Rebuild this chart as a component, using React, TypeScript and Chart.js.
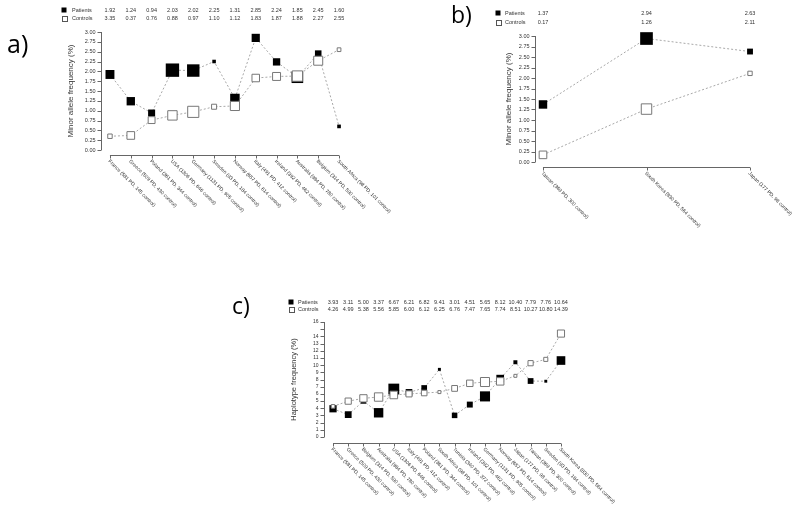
import React, { useEffect, useRef } from 'react';
import { Chart, registerables } from 'chart.js';
Chart.register(...registerables);

// ---------- Panel a ----------
const aCountries = ['France', 'Greece', 'Poland', 'USA', 'Germany', 'Sweden', 'Norway', 'Italy', 'Ireland', 'Australia', 'Belgium', 'South Africa'];
const aPatientsN = [581, 509, 361, 1306, 1131, 93, 657, 491, 392, 984, 314, 98];
const aControlsN = [145, 430, 344, 646, 905, 184, 614, 412, 462, 780, 590, 101];
const aPatients = [1.92, 1.24, 0.94, 2.03, 2.02, 2.25, 1.31, 2.85, 2.24, 1.85, 2.45, 0.60];
const aControls = [0.35, 0.37, 0.76, 0.88, 0.97, 1.10, 1.12, 1.83, 1.87, 1.88, 2.27, 2.55];
// header text as printed in the figure
const aPatientsText = ['1.92', '1.24', '0.94', '2.03', '2.02', '2.25', '1.31', '2.85', '2.24', '1.85', '2.45', '1.60'];
const aControlsText = ['3.35', '0.37', '0.76', '0.88', '0.97', '1.10', '1.12', '1.83', '1.87', '1.88', '2.27', '2.55'];
const aYTickValues = [0, 0.25, 0.5, 0.75, 1, 1.25, 1.5, 1.75, 2, 2.25, 2.5, 2.75, 3];
const aYTickLabels = ['0.00', '0.25', '0.50', '0.75', '1.00', '1.25', '1.50', '1.75', '2.00', '2.25', '2.50', '2.75', '3.00'];

// ---------- Panel b ----------
const bCountries = ['Taiwan', 'South Korea', 'Japan'];
const bPatientsN = [369, 830, 177];
const bControlsN = [300, 564, 98];
const bPatients = [1.37, 2.94, 2.63];
const bControls = [0.17, 1.26, 2.11];
const bPatientsText = ['1.37', '2.94', '2.63'];
const bControlsText = ['0.17', '1.26', '2.11'];
const bYTickValues = aYTickValues;
const bYTickLabels = aYTickLabels;

// ---------- Panel c ----------
const cCountries = ['France', 'Greece', 'Belgium', 'Australia', 'USA', 'Italy', 'Poland', 'South Africa', 'Tunisia', 'Ireland', 'Germany', 'Norway', 'Japan', 'Taiwan', 'Sweden', 'South Korea'];
const cPatientsN = [581, 509, 314, 984, 1306, 491, 361, 98, 340, 392, 1131, 657, 177, 369, 93, 830];
const cControlsN = [145, 430, 590, 780, 646, 412, 344, 101, 372, 462, 905, 614, 98, 300, 184, 564];
const cPatients = [3.93, 3.11, 5.00, 3.37, 6.67, 6.21, 6.82, 9.41, 3.01, 4.51, 5.65, 8.12, 10.40, 7.79, 7.76, 10.64];
const cControls = [4.26, 4.99, 5.38, 5.56, 5.85, 6.00, 6.12, 6.25, 6.76, 7.47, 7.65, 7.74, 8.51, 10.27, 10.80, 14.39];
const cPatientsText = ['3.93', '3.11', '5.00', '3.37', '6.67', '6.21', '6.82', '9.41', '3.01', '4.51', '5.65', '8.12', '10.40', '7.79', '7.76', '10.64'];
const cControlsText = ['4.26', '4.99', '5.38', '5.56', '5.85', '6.00', '6.12', '6.25', '6.76', '7.47', '7.65', '7.74', '8.51', '10.27', '10.80', '14.39'];
const cYTickValues = [0, 1, 2, 3, 4, 5, 6, 7, 8, 9, 10, 11, 12, 13, 14, 15, 16];
const cYTickLabels = ['0', '1', '2', '3', '4', '5', '6', '7', '8', '9', '10', '11', '12', '13', '14', '', '16'];

const FONT = "'Liberation Sans', Arial, sans-serif";
const TEXT = '#333333';
const AXIS = '#666666';

type PanelCfg = {
  left: number; top: number; width: number; height: number;
  padding: { left: number; right: number; top: number; bottom: number };
  countries: string[]; pN: number[]; cN: number[]; pVals: number[]; cVals: number[];
  pText: string[]; cText: string[];
  yMax: number; yTickValues: number[]; yTickLabels: string[];
  title: string; titleX: number; titleSize: number;
  sizeFactor: number; gap: number;
  legendX: number; legendTextX: number; rowY1: number; rowY2: number;
  tickFont: number; labelFont: number; headerFont: number;
};

function labelFor(name: string, p: number, c: number) {
  return `${name} (${p} PD, ${c} control)`;
}

function rPlugin(cfg: PanelCfg) {
  return {
    id: 'rstyle',
    afterDraw(chart: any) {
      const ctx: CanvasRenderingContext2D = chart.ctx;
      const xs = chart.scales.x;
      const ys = chart.scales.y;
      const area = chart.chartArea;
      const n = cfg.countries.length;
      ctx.save();
      ctx.strokeStyle = AXIS;
      ctx.fillStyle = TEXT;
      ctx.lineWidth = 1;
      // y axis
      const ax = Math.round(area.left) + 0.5;
      const y0 = ys.getPixelForValue(0);
      const yTop = ys.getPixelForValue(cfg.yMax);
      ctx.beginPath();
      ctx.moveTo(ax, y0);
      ctx.lineTo(ax, yTop);
      cfg.yTickValues.forEach((v) => {
        const py = Math.round(ys.getPixelForValue(v)) + 0.5;
        ctx.moveTo(ax, py);
        ctx.lineTo(ax - 4, py);
      });
      ctx.stroke();
      ctx.font = `${cfg.tickFont}px ${FONT}`;
      ctx.textAlign = 'right';
      ctx.textBaseline = 'middle';
      cfg.yTickValues.forEach((v, i) => {
        ctx.fillText(cfg.yTickLabels[i], ax - 6, ys.getPixelForValue(v));
      });
      // x axis
      const ay = Math.round(y0 + cfg.gap) + 0.5;
      ctx.beginPath();
      ctx.moveTo(xs.getPixelForValue(0), ay);
      ctx.lineTo(xs.getPixelForValue(n - 1), ay);
      for (let i = 0; i < n; i++) {
        const px = Math.round(xs.getPixelForValue(i)) + 0.5;
        ctx.moveTo(px, ay);
        ctx.lineTo(px, ay + 3);
      }
      ctx.stroke();
      ctx.font = `${cfg.labelFont}px ${FONT}`;
      ctx.textAlign = 'left';
      ctx.textBaseline = 'middle';
      for (let i = 0; i < n; i++) {
        ctx.save();
        ctx.translate(xs.getPixelForValue(i) - 1, ay + 5);
        ctx.rotate(Math.PI / 4);
        ctx.fillText(labelFor(cfg.countries[i], cfg.pN[i], cfg.cN[i]), 0, 0);
        ctx.restore();
      }
      // y title
      ctx.save();
      ctx.font = `${cfg.titleSize}px ${FONT}`;
      ctx.textAlign = 'center';
      ctx.translate(cfg.titleX, ys.getPixelForValue(cfg.yMax / 2));
      ctx.rotate(-Math.PI / 2);
      ctx.fillText(cfg.title, 0, 0);
      ctx.restore();
      // header table
      ctx.fillStyle = '#000';
      ctx.fillRect(cfg.legendX - 2.5, cfg.rowY1 - 2.5, 5, 5);
      ctx.fillStyle = '#fff';
      ctx.fillRect(cfg.legendX - 2.5, cfg.rowY2 - 2.5, 5, 5);
      ctx.strokeStyle = '#555';
      ctx.strokeRect(Math.round(cfg.legendX - 2.5) + 0.5, Math.round(cfg.rowY2 - 2.5) + 0.5, 5, 5);
      ctx.fillStyle = TEXT;
      ctx.font = `${cfg.headerFont}px ${FONT}`;
      ctx.textAlign = 'left';
      ctx.fillText('Patients', cfg.legendTextX, cfg.rowY1);
      ctx.fillText('Controls', cfg.legendTextX, cfg.rowY2);
      ctx.textAlign = 'center';
      for (let i = 0; i < n; i++) {
        const px = xs.getPixelForValue(i);
        ctx.fillText(cfg.pText[i], px, cfg.rowY1);
        ctx.fillText(cfg.cText[i], px, cfg.rowY2);
      }
      ctx.restore();
    },
  };
}

function Panel({ cfg }: { cfg: PanelCfg }) {
  const ref = useRef<HTMLCanvasElement | null>(null);
  useEffect(() => {
    if (!ref.current) return;
    const n = cfg.countries.length;
    const ext = 0.04 * (n - 1);
    const rad = (k: number) => (cfg.sizeFactor * Math.sqrt(k)) / Math.SQRT2;
    const chart = new Chart(ref.current, {
      type: 'line',
      data: {
        datasets: [
          {
            label: 'Controls',
            data: cfg.cVals.map((v, i) => ({ x: i, y: v })),
            borderColor: '#a8a8a8',
            borderWidth: 1,
            borderDash: [2, 2],
            pointStyle: 'rect',
            pointRadius: cfg.cN.map(rad),
            pointBackgroundColor: '#ffffff',
            pointBorderColor: '#777777',
            pointBorderWidth: 1,
            clip: false as any,
            order: 0,
          },
          {
            label: 'Patients',
            data: cfg.pVals.map((v, i) => ({ x: i, y: v })),
            borderColor: '#a8a8a8',
            borderWidth: 1,
            borderDash: [2, 2],
            pointStyle: 'rect',
            pointRadius: cfg.pN.map(rad),
            pointBackgroundColor: '#000000',
            pointBorderColor: '#000000',
            pointBorderWidth: 0,
            clip: false as any,
            order: 1,
          },
        ],
      },
      options: {
        responsive: false,
        animation: false,
        devicePixelRatio: 1,
        layout: { padding: cfg.padding },
        plugins: { legend: { display: false }, tooltip: { enabled: false } },
        scales: {
          x: { type: 'linear', display: false, min: -ext, max: n - 1 + ext },
          y: { type: 'linear', display: false, min: 0, max: cfg.yMax },
        },
      },
      plugins: [rPlugin(cfg)],
    });
    return () => chart.destroy();
  }, [cfg]);
  return (
    <canvas
      ref={ref}
      width={cfg.width}
      height={cfg.height}
      style={{ position: 'absolute', left: cfg.left, top: cfg.top, width: cfg.width, height: cfg.height }}
    />
  );
}

const panelA: PanelCfg = {
  left: 0, top: 0, width: 450, height: 280,
  padding: { left: 100.8, right: 101.8, top: 32, bottom: 130 },
  countries: aCountries, pN: aPatientsN, cN: aControlsN, pVals: aPatients, cVals: aControls,
  pText: aPatientsText, cText: aControlsText,
  yMax: 3, yTickValues: aYTickValues, yTickLabels: aYTickLabels,
  title: 'Minor allele frequency (%)', titleX: 71, titleSize: 8,
  sizeFactor: 0.37, gap: 5,
  legendX: 64, legendTextX: 72, rowY1: 10, rowY2: 18,
  tickFont: 5.5, labelFont: 5, headerFont: 5.5,
};

const panelB: PanelCfg = {
  left: 450, top: 0, width: 350, height: 280,
  padding: { left: 84.7, right: 41.7, top: 36, bottom: 118 },
  countries: bCountries, pN: bPatientsN, cN: bControlsN, pVals: bPatients, cVals: bControls,
  pText: bPatientsText, cText: bControlsText,
  yMax: 3, yTickValues: bYTickValues, yTickLabels: bYTickLabels,
  title: 'Minor allele frequency (%)', titleX: 59, titleSize: 8,
  sizeFactor: 0.44, gap: 5,
  legendX: 48, legendTextX: 55, rowY1: 13, rowY2: 22,
  tickFont: 5.5, labelFont: 5, headerFont: 5.5,
};

const panelC: PanelCfg = {
  left: 200, top: 275, width: 600, height: 235,
  padding: { left: 123.9, right: 229.9, top: 47, bottom: 73 },
  countries: cCountries, pN: cPatientsN, cN: cControlsN, pVals: cPatients, cVals: cControls,
  pText: cPatientsText, cText: cControlsText,
  yMax: 16, yTickValues: cYTickValues, yTickLabels: cYTickLabels,
  title: 'Haplotype frequency (%)', titleX: 94, titleSize: 7.5,
  sizeFactor: 0.3, gap: 6,
  legendX: 91, legendTextX: 98, rowY1: 27, rowY2: 34,
  tickFont: 5, labelFont: 5, headerFont: 5.5,
};

const letterStyle: React.CSSProperties = {
  position: 'absolute',
  fontFamily: "'Open Sans', 'Liberation Sans', Arial, sans-serif",
  color: '#000',
  lineHeight: 1,
};

export default function App() {
  return (
    <div style={{ position: 'fixed', left: 0, top: 0, width: 800, height: 510, background: '#fff', overflow: 'hidden' }}>
      <Panel cfg={panelA} />
      <Panel cfg={panelB} />
      <Panel cfg={panelC} />
      <div style={{ ...letterStyle, left: 7, top: 31, fontSize: 25 }}>a)</div>
      <div style={{ ...letterStyle, left: 451, top: 3, fontSize: 23 }}>b)</div>
      <div style={{ ...letterStyle, left: 232, top: 294, fontSize: 23 }}>c)</div>
    </div>
  );
}
